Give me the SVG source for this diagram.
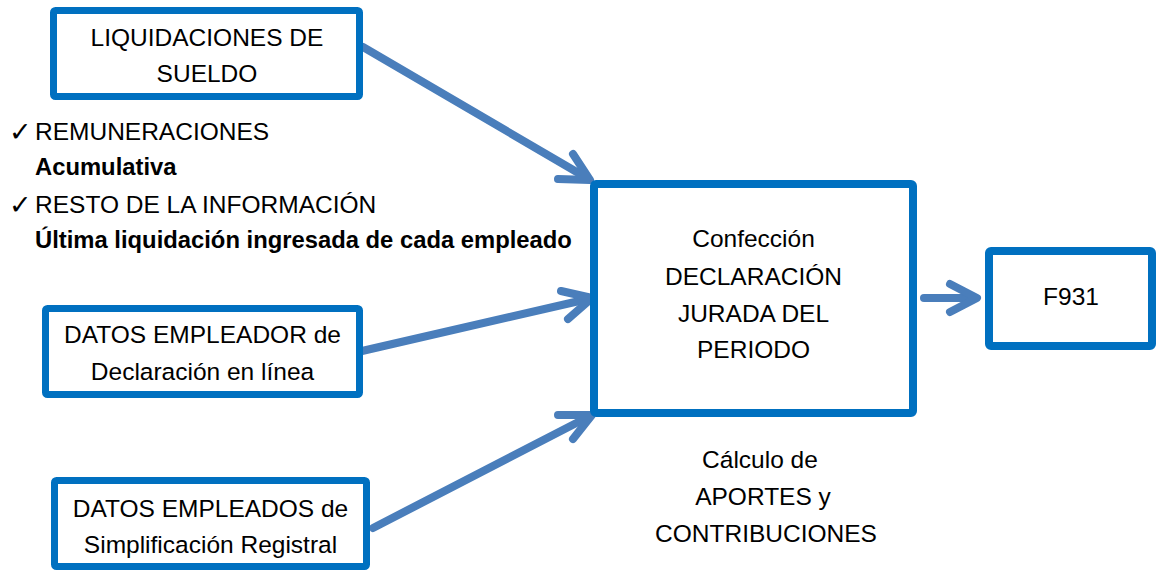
<svg xmlns="http://www.w3.org/2000/svg" width="1157" height="570" viewBox="0 0 1157 570">
  <style>
    .box { fill: #ffffff; stroke: #0070C0; stroke-width: 7; }
    .big { stroke-width: 8; }
    .t { font-family: "Liberation Sans", Arial, sans-serif; font-size: 24.5px; fill: #000000; }
    .c { text-anchor: middle; }
    .b { font-weight: bold; font-size: 23.8px; }
    .chk { font-family: "DejaVu Sans", sans-serif; font-size: 27px; fill: #000000; }
    .arr { fill: none; stroke: #4A7EBB; stroke-width: 8; stroke-linecap: round; stroke-linejoin: round; }
  </style>
  <rect width="1157" height="570" fill="#ffffff"/>

  <g id="connectors">
    <line class="arr" x1="363" y1="47" x2="587" y2="178"/>
    <polyline class="arr" points="573,154 590,180 558,179"/>
    <line class="arr" x1="362" y1="351" x2="588" y2="299"/>
    <polyline class="arr" points="561,291 592,298 568,319"/>
    <line class="arr" x1="373" y1="528" x2="588" y2="417"/>
    <polyline class="arr" points="558,415 592,415 573,439"/>
    <line class="arr" x1="924" y1="298" x2="975" y2="298"/>
    <polyline class="arr" points="950,284 977,298 950,312"/>
  </g>

  <g id="liquidaciones">
    <rect class="box" x="53.5" y="10.5" width="306" height="86" rx="2"/>
    <text class="t c" x="207" y="46">LIQUIDACIONES DE</text>
    <text class="t c" x="207" y="82">SUELDO</text>
  </g>

  <g id="notas">
    <text class="chk" x="9" y="141">✓</text>
    <text class="t" x="35" y="140">REMUNERACIONES</text>
    <text class="t b" x="35" y="175">Acumulativa</text>
    <text class="chk" x="9" y="214">✓</text>
    <text class="t" x="35" y="213">RESTO DE LA INFORMACIÓN</text>
    <text class="t b" x="35" y="248">Última liquidación ingresada de cada empleado</text>
  </g>

  <g id="empleador">
    <rect class="box" x="45.5" y="308.5" width="314" height="86" rx="2"/>
    <text class="t c" x="202.5" y="343">DATOS EMPLEADOR de</text>
    <text class="t c" x="202.5" y="380">Declaración en línea</text>
  </g>

  <g id="empleados">
    <rect class="box" x="54.5" y="480.5" width="312" height="86" rx="2"/>
    <text class="t c" x="210.5" y="517">DATOS EMPLEADOS de</text>
    <text class="t c" x="210.5" y="553">Simplificación Registral</text>
  </g>

  <g id="declaracion">
    <rect class="box big" x="594" y="184" width="319" height="229" rx="2"/>
    <text class="t c" x="753.5" y="247">Confección</text>
    <text class="t c" x="753.5" y="285">DECLARACIÓN</text>
    <text class="t c" x="753.5" y="322">JURADA DEL</text>
    <text class="t c" x="753.5" y="358">PERIODO</text>
  </g>

  <g id="f931">
    <rect class="box big" x="989" y="251" width="163" height="95" rx="2"/>
    <text class="t c" x="1071" y="305">F931</text>
  </g>

  <g id="calculo">
    <text class="t c" x="760" y="468">Cálculo de</text>
    <text class="t c" x="763" y="505">APORTES y</text>
    <text class="t c" x="766" y="542">CONTRIBUCIONES</text>
  </g>
</svg>
